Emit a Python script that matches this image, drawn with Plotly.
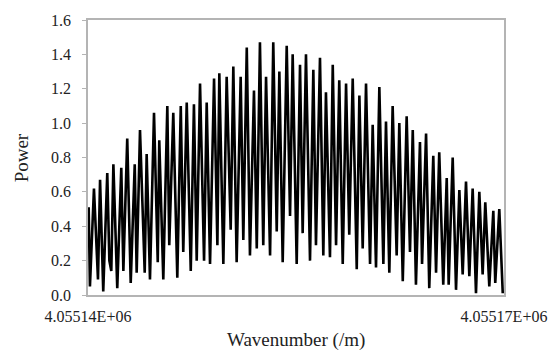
import plotly.graph_objects as go

# Wavenumber (/m)
wavenumber = [
    4055140.05, 4055140.14, 4055140.43, 4055140.72, 4055140.87, 4055141.10, 4055141.39, 4055141.54,
    4055141.68, 4055141.83, 4055142.11, 4055142.40, 4055142.55, 4055142.83, 4055143.08, 4055143.37,
    4055143.51, 4055143.75, 4055144.09, 4055144.23, 4055144.47, 4055144.76, 4055145.03, 4055145.14,
    4055145.43, 4055145.72, 4055145.86, 4055146.15, 4055146.44, 4055146.69, 4055146.87, 4055147.12,
    4055147.41, 4055147.64, 4055147.84, 4055148.08, 4055148.37, 4055148.56, 4055148.80, 4055149.09,
    4055149.33, 4055149.47, 4055149.76, 4055150.00, 4055150.29, 4055150.48, 4055150.72, 4055151.01,
    4055151.20, 4055151.45, 4055151.68, 4055151.97, 4055152.17, 4055152.40, 4055152.64, 4055152.84,
    4055153.13, 4055153.36, 4055153.61, 4055153.80, 4055154.04, 4055154.33, 4055154.57, 4055154.76,
    4055155.05, 4055155.29, 4055155.48, 4055155.72, 4055156.01, 4055156.25, 4055156.44, 4055156.73,
    4055156.97, 4055157.16, 4055157.45, 4055157.65, 4055157.89, 4055158.12, 4055158.37, 4055158.61,
    4055158.84, 4055159.09, 4055159.38, 4055159.57, 4055159.81, 4055160.05, 4055160.34, 4055160.53,
    4055160.77, 4055161.01, 4055161.30, 4055161.49, 4055161.73, 4055161.97, 4055162.26, 4055162.45,
    4055162.70, 4055162.98, 4055163.22, 4055163.42, 4055163.65, 4055163.94, 4055164.09, 4055164.38,
    4055164.61, 4055164.90, 4055165.10, 4055165.33, 4055165.62, 4055165.87, 4055166.01, 4055166.30,
    4055166.54, 4055166.78, 4055167.02, 4055167.26, 4055167.50, 4055167.74, 4055167.98, 4055168.22,
    4055168.46, 4055168.65, 4055168.94, 4055169.23, 4055169.37, 4055169.66, 4055169.91,
]

# Power
power = [
    0.51, 0.05, 0.62, 0.09, 0.67, 0.02, 0.71, 0.20,
    0.14, 0.76, 0.04, 0.74, 0.14, 0.91, 0.07, 0.76,
    0.13, 0.96, 0.13, 0.82, 0.09, 1.06, 0.19, 0.90,
    0.09, 1.10, 0.29, 1.06, 0.10, 1.10, 0.25, 1.12,
    0.14, 1.11, 0.20, 1.23, 0.20, 1.12, 0.18, 1.26,
    0.29, 1.29, 0.18, 1.27, 0.38, 1.33, 0.19, 1.27,
    0.32, 1.44, 0.23, 1.19, 0.27, 1.47, 0.29, 1.27,
    0.23, 1.47, 0.37, 1.30, 0.19, 1.45, 0.46, 1.40,
    0.18, 1.34, 0.36, 1.40, 0.20, 1.31, 0.29, 1.38,
    0.23, 1.18, 0.22, 1.34, 0.29, 1.25, 0.18, 1.23,
    0.35, 1.26, 0.15, 1.16, 0.27, 1.23, 0.18, 0.99,
    0.16, 1.21, 0.18, 1.01, 0.13, 1.10, 0.23, 1.00,
    0.08, 1.04, 0.25, 0.96, 0.06, 0.89, 0.18, 0.94,
    0.04, 0.81, 0.13, 0.83, 0.06, 0.68, 0.06, 0.80,
    0.03, 0.61, 0.12, 0.66, 0.11, 0.62, 0.01, 0.60,
    0.12, 0.54, 0.05, 0.49, 0.07, 0.50, 0.01,
]

x_tick_values = [4055140, 4055170]
x_tick_labels = ["4.05514E+06", "4.05517E+06"]
y_tick_values = [0.0, 0.2, 0.4, 0.6, 0.8, 1.0, 1.2, 1.4, 1.6]
y_tick_labels = ["0.0", "0.2", "0.4", "0.6", "0.8", "1.0", "1.2", "1.4", "1.6"]

FONT = "Liberation Serif"
TEXT = "#222222"
AXIS = "#b4b4b4"

fig = go.Figure()
fig.add_trace(go.Scatter(
    x=wavenumber, y=power, mode="lines",
    line=dict(color="#000000", width=2.6),
    showlegend=False,
))

fig.update_layout(
    width=557, height=351,
    margin=dict(l=88, r=53, t=20, b=56),
    paper_bgcolor="white", plot_bgcolor="white",
    font=dict(family=FONT, color=TEXT, size=16),
    xaxis=dict(
        range=[4055140, 4055170],
        tickvals=x_tick_values, ticktext=x_tick_labels,
        showgrid=False, zeroline=False, automargin=False,
        showline=True, linecolor=AXIS, linewidth=1.5, mirror=True,
        ticks="", tickfont=dict(family=FONT, size=16, color=TEXT),
        ticklabelstandoff=6,
    ),
    yaxis=dict(
        range=[0, 1.6],
        tickvals=y_tick_values, ticktext=y_tick_labels,
        showgrid=False, zeroline=False, automargin=False,
        showline=True, linecolor=AXIS, linewidth=1.5, mirror=True,
        ticks="outside", ticklen=4, tickcolor=AXIS, tickwidth=1,
        tickfont=dict(family=FONT, size=16, color=TEXT),
        ticklabelstandoff=8,
    ),
    annotations=[
        dict(text="Wavenumber (/m)", xref="paper", yref="paper", x=0.5, y=-0.162,
             xanchor="center", yanchor="middle", showarrow=False,
             font=dict(family=FONT, size=19, color=TEXT)),
        dict(text="Power", xref="paper", yref="paper", x=-0.159, y=0.5, textangle=-90,
             xanchor="center", yanchor="middle", showarrow=False,
             font=dict(family=FONT, size=19, color=TEXT)),
    ],
)

fig.write_html("out.html")
